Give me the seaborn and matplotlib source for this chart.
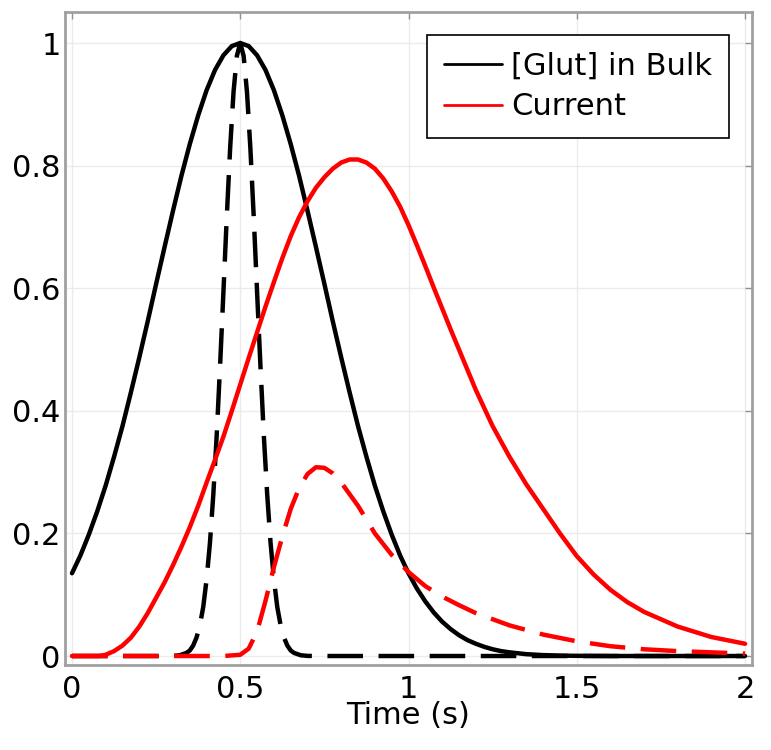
import matplotlib
matplotlib.use("Agg")
import matplotlib.pyplot as plt
import seaborn as sns
from matplotlib.lines import Line2D

# ---- data ----
# [Glut] in bulk (black solid)
t_bulk = [0.0, 0.025, 0.05, 0.075, 0.1, 0.125, 0.15, 0.175, 0.2, 0.225, 0.25, 0.275,
          0.3, 0.325, 0.35, 0.375, 0.4, 0.425, 0.45, 0.475, 0.5, 0.525, 0.55, 0.575,
          0.6, 0.625, 0.65, 0.675, 0.7, 0.725, 0.75, 0.775, 0.8, 0.825, 0.85, 0.875,
          0.9, 0.925, 0.95, 0.975, 1.0, 1.025, 1.05, 1.075, 1.1, 1.125, 1.15, 1.175,
          1.2, 1.225, 1.25, 1.275, 1.3, 1.35, 1.4, 1.45, 1.5, 1.6, 2.0]
glut_bulk = [0.135, 0.164, 0.198, 0.236, 0.278, 0.325, 0.375, 0.430, 0.487, 0.546, 0.607, 0.667,
             0.726, 0.783, 0.835, 0.882, 0.923, 0.956, 0.980, 0.995, 1.0, 0.995, 0.980, 0.956,
             0.923, 0.882, 0.835, 0.783, 0.726, 0.667, 0.607, 0.546, 0.487, 0.430, 0.375, 0.325,
             0.278, 0.236, 0.198, 0.164, 0.135, 0.110, 0.089, 0.071, 0.056, 0.044, 0.034, 0.026,
             0.020, 0.015, 0.011, 0.008, 0.006, 0.003, 0.0015, 0.0007, 0.0003, 0.0, 0.0]

# [Glut] at the surface (black dashed)
t_surf = [0.0, 0.28, 0.3, 0.32, 0.34, 0.35, 0.36, 0.37, 0.38, 0.39, 0.4, 0.41, 0.42,
          0.43, 0.44, 0.45, 0.46, 0.47, 0.48, 0.49, 0.5, 0.51, 0.52, 0.53, 0.54, 0.55,
          0.56, 0.57, 0.58, 0.59, 0.6, 0.61, 0.62, 0.63, 0.64, 0.65, 0.66, 0.68, 0.7, 0.72, 2.0]
glut_surf = [0.0, 0.0, 0.0002, 0.0012, 0.005, 0.009, 0.017, 0.030, 0.050, 0.080, 0.125, 0.185, 0.264,
             0.360, 0.473, 0.594, 0.717, 0.829, 0.920, 0.979, 1.0, 0.979, 0.920, 0.829, 0.717, 0.594,
             0.473, 0.360, 0.264, 0.185, 0.125, 0.080, 0.050, 0.030, 0.017, 0.009, 0.005, 0.0012, 0.0002, 0.0, 0.0]

# Current (red solid)
t_cur = [0.0, 0.08, 0.1, 0.125, 0.15, 0.175, 0.2, 0.225, 0.25, 0.275, 0.3, 0.325, 0.35,
         0.375, 0.4, 0.425, 0.45, 0.475, 0.5, 0.525, 0.55, 0.575, 0.6, 0.625, 0.65, 0.675,
         0.7, 0.725, 0.75, 0.775, 0.8, 0.825, 0.85, 0.875, 0.9, 0.925, 0.95, 0.975, 1.0,
         1.025, 1.05, 1.075, 1.1, 1.125, 1.15, 1.175, 1.2, 1.25, 1.3, 1.35, 1.4, 1.45, 1.5,
         1.55, 1.6, 1.65, 1.7, 1.8, 1.9, 2.0]
current = [0.0, 0.0, 0.002, 0.008, 0.017, 0.030, 0.048, 0.070, 0.095, 0.120, 0.148, 0.178, 0.210,
           0.245, 0.283, 0.320, 0.358, 0.400, 0.443, 0.486, 0.528, 0.570, 0.610, 0.649, 0.685, 0.716,
           0.742, 0.764, 0.781, 0.795, 0.805, 0.810, 0.810, 0.805, 0.795, 0.779, 0.758, 0.733, 0.703,
           0.670, 0.636, 0.601, 0.567, 0.533, 0.500, 0.467, 0.434, 0.375, 0.325, 0.280, 0.240, 0.200, 0.163,
           0.133, 0.108, 0.088, 0.072, 0.048, 0.031, 0.020]

# Current, second case (red dashed)
t_cur2 = [0.0, 0.45, 0.5, 0.525, 0.55, 0.575, 0.6, 0.625, 0.65, 0.675, 0.7, 0.725, 0.75,
          0.775, 0.8, 0.85, 0.9, 0.95, 1.0, 1.05, 1.1, 1.15, 1.2, 1.3, 1.4, 1.5, 1.6, 1.7,
          1.8, 1.9, 2.0]
current2 = [0.0, 0.0, 0.002, 0.012, 0.040, 0.090, 0.145, 0.195, 0.240, 0.274, 0.297, 0.308, 0.307,
            0.298, 0.283, 0.245, 0.200, 0.165, 0.137, 0.114, 0.097, 0.083, 0.070, 0.050, 0.035, 0.024,
            0.016, 0.011, 0.008, 0.006, 0.004]

# ---- style ----
sns.set_style("whitegrid")
plt.rcParams["font.family"] = ["DejaVu Sans"]
plt.rcParams["text.color"] = "black"

fig = plt.figure(figsize=(7.71, 7.50), dpi=100)
ax = fig.add_axes([0.0843, 0.1133, 0.8911, 0.8707])

lw = 3.2
dash = (0, (8, 3.5))
sns.lineplot(x=t_bulk, y=glut_bulk, ax=ax, color="black", linewidth=lw)
sns.lineplot(x=t_surf, y=glut_surf, ax=ax, color="black", linewidth=lw, linestyle=dash)
sns.lineplot(x=t_cur, y=current, ax=ax, color="#ff0000", linewidth=lw)
sns.lineplot(x=t_cur2, y=current2, ax=ax, color="#ff0000", linewidth=lw, linestyle=dash)

ax.set_xlim(-0.0208, 2.0208)
ax.set_ylim(-0.0147, 1.0506)
ax.set_xticks([0, 0.5, 1, 1.5, 2])
ax.set_xticklabels(["0", "0.5", "1", "1.5", "2"])
ax.set_yticks([0, 0.2, 0.4, 0.6, 0.8, 1])
ax.set_yticklabels(["0", "0.2", "0.4", "0.6", "0.8", "1"])

ax.grid(True, color="#ebebeb", linewidth=1.0)
for s in ax.spines.values():
    s.set_color("#a0a0a0")
    s.set_linewidth(2.0)
ax.tick_params(axis="both", direction="in", length=5, width=1, color="#909090",
               top=True, right=True, labelsize=22, labelcolor="black")
ax.tick_params(axis="x", pad=7)
ax.tick_params(axis="y", pad=3)
ax.set_xlabel("Time (s)", fontsize=22, labelpad=-2, color="black")
ax.set_ylabel("")

handles = [Line2D([], [], color="black", linewidth=2),
           Line2D([], [], color="#ff0000", linewidth=2)]
leg = ax.legend(handles, ["[Glut] in Bulk", "Current"], loc="upper right",
                fontsize=22, frameon=True, fancybox=False, framealpha=1,
                edgecolor="black", handlelength=1.9, handletextpad=0.3,
                borderaxespad=0.75, borderpad=0.55, labelspacing=0.38)
leg.get_frame().set_linewidth(1.2)
for txt in leg.get_texts():
    txt.set_color("black")

fig.savefig("out.png", dpi=100)
